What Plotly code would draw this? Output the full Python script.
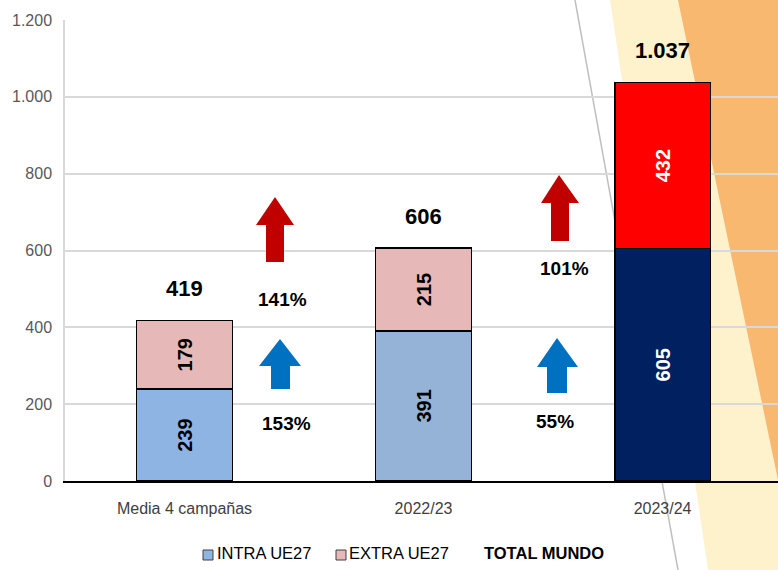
import plotly.graph_objects as go

# ---------------- data ----------------
categories = ["Media 4 campañas", "2022/23", "2023/24"]
intra_ue27 = [239, 391, 605]
extra_ue27 = [179, 215, 432]
total_mundo = [419, 606, 1037]
total_labels = ["419", "606", "1.037"]
growth_extra = ["141%", "101%"]
growth_intra = ["153%", "55%"]
y_ticks = [0, 200, 400, 600, 800, 1000, 1200]

# ---------------- styles ----------------
W, H = 778, 570
L, R, T, B = 65, 0, 20, 89
FONT = "Liberation Sans, Arial, sans-serif"

intra_colors = ["#8EB4E3", "#95B3D7", "#002060"]
extra_colors = ["#E6B9B8", "#E6B9B8", "#FF0000"]
label_colors = ["black", "black", "white"]


def px(x):
    return (x - L) / (W - L - R)


def py(y):
    return (H - B - y) / (H - T - B)


fig = go.Figure()

for name, vals, cols in [("INTRA UE27", intra_ue27, intra_colors),
                         ("EXTRA UE27", extra_ue27, extra_colors)]:
    fig.add_trace(go.Bar(
        name=name, x=categories, y=vals,
        marker=dict(color=cols, line=dict(color="black", width=1.5)),
        width=0.4, text=[str(v) for v in vals], textposition="inside",
        insidetextanchor="middle", textangle=-90, constraintext="none",
        textfont=dict(family=FONT, size=20, color=label_colors, weight="bold"),
        showlegend=False, hoverinfo="skip",
    ))

# totals above bars
for c, t, lab in zip(categories, total_mundo, total_labels):
    fig.add_annotation(x=c, y=t, text=lab, showarrow=False, yshift=32,
                       yanchor="middle", xanchor="center",
                       font=dict(family=FONT, size=22, color="black", weight="bold"))

# growth percentages
pct_pos_extra = [(282, 299), (564, 268)]
pct_pos_intra = [(286, 423), (555, 421)]
for lab, (x, y) in zip(growth_extra + growth_intra, pct_pos_extra + pct_pos_intra):
    fig.add_annotation(x=px(x), y=py(y), xref="paper", yref="paper", text=lab,
                       showarrow=False, xanchor="center", yanchor="middle",
                       font=dict(family=FONT, size=19, color="black", weight="bold"))

shapes = []
# background decoration
shapes.append(dict(type="path", xref="paper", yref="paper", layer="below",
                   path=f"M {px(610)} {py(0)} L {px(778)} {py(0)} L {px(778)} {py(570)} "
                        f"L {px(708)} {py(570)} L {px(695)} {py(482)} L {px(682)} {py(480)} Z",
                   fillcolor="#FEF2CD", line=dict(width=0)))
shapes.append(dict(type="path", xref="paper", yref="paper", layer="below",
                   path=f"M {px(678)} {py(0)} L {px(778)} {py(0)} L {px(778)} {py(480)} Z",
                   fillcolor="#F9B86F", line=dict(width=0)))
shapes.append(dict(type="line", xref="paper", yref="paper", layer="below",
                   x0=px(575), y0=py(0), x1=px(678), y1=py(570),
                   line=dict(color="#BFBFBF", width=1.5)))


def arrow(tipx, tipy, hx0, hx1, hy, sx0, sx1, by, color):
    p = (f"M {px(tipx)} {py(tipy)} L {px(hx1)} {py(hy)} L {px(sx1)} {py(hy)} "
         f"L {px(sx1)} {py(by)} L {px(sx0)} {py(by)} L {px(sx0)} {py(hy)} "
         f"L {px(hx0)} {py(hy)} Z")
    return dict(type="path", xref="paper", yref="paper", layer="above", path=p,
                fillcolor=color, line=dict(width=0))


shapes.append(arrow(275, 197, 256, 294, 225, 266, 284, 262, "#C00000"))
shapes.append(arrow(280, 339, 259, 301, 366, 271, 290, 389, "#0070C0"))
shapes.append(arrow(559, 175, 541, 579, 203, 551, 569, 241, "#C00000"))
shapes.append(arrow(557, 338, 537, 578, 367, 547, 567, 393, "#0070C0"))

# manual legend
shapes.append(dict(type="rect", xref="paper", yref="paper",
                   x0=px(203), x1=px(213), y0=py(550), y1=py(560),
                   fillcolor="#8EB4E3", line=dict(color="#404040", width=1)))
shapes.append(dict(type="rect", xref="paper", yref="paper",
                   x0=px(336), x1=px(346), y0=py(550), y1=py(560),
                   fillcolor="#E6B9B8", line=dict(color="#404040", width=1)))
fig.add_annotation(x=px(215), y=py(553), xref="paper", yref="paper", text="INTRA UE27",
                   showarrow=False, xanchor="left", yanchor="middle",
                   font=dict(family=FONT, size=16.5, color="black"))
fig.add_annotation(x=px(347), y=py(553), xref="paper", yref="paper", text="EXTRA UE27",
                   showarrow=False, xanchor="left", yanchor="middle",
                   font=dict(family=FONT, size=16.5, color="black"))
fig.add_annotation(x=px(482), y=py(553), xref="paper", yref="paper", text="TOTAL MUNDO",
                   showarrow=False, xanchor="left", yanchor="middle",
                   font=dict(family=FONT, size=16.5, color="black", weight="bold"))

fig.update_layout(
    width=W, height=H, barmode="stack",
    margin=dict(l=L, r=R, t=T, b=B, pad=0),
    paper_bgcolor="white", plot_bgcolor="rgba(0,0,0,0)",
    separators=",.",
    shapes=shapes,
    showlegend=False,
    xaxis=dict(range=[-0.5, 2.483], showline=True, linecolor="black", linewidth=1.5,
               showgrid=False, ticks="", ticklabelstandoff=12,
               tickfont=dict(family=FONT, size=16, color="#404040")),
    yaxis=dict(range=[0, 1200], tickvals=y_ticks, tickformat=",d",
               showline=True, linecolor="#D9D9D9", linewidth=1.5,
               showgrid=True, gridcolor="#D9D9D9", gridwidth=1.5,
               zeroline=False, ticks="", ticklabelstandoff=8,
               tickfont=dict(family=FONT, size=16, color="#595959")),
)

fig.write_html("out.html", config={"displayModeBar": False},
               post_script="document.body.style.margin='0';")
